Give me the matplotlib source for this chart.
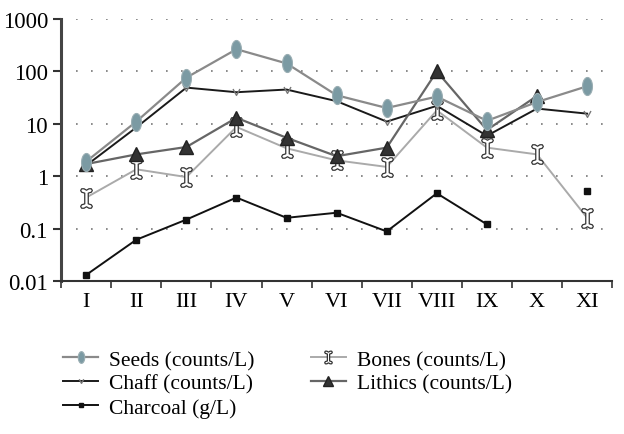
import matplotlib
matplotlib.use("Agg")
import matplotlib.pyplot as plt
import numpy as np
from matplotlib.path import Path

categories = ["I", "II", "III", "IV", "V", "VI", "VII", "VIII", "IX", "X", "XI"]
seeds = [1.9, 11, 76, 265, 142, 35, 20, 33, 11.4, 26, 52]
chaff = [1.6, 8.5, 49, 40, 45, 27, 11, 22, 5.9, 19.5, 15.6]
bones = [0.39, 1.35, 0.96, 8.7, 3.4, 2.0, 1.5, 18, 3.5, 2.6, 0.16]
lithics = [1.7, 2.6, 3.6, 13, 5.4, 2.4, 3.5, 100, 7.6, 34, np.nan]
charcoal = [0.013, 0.061, 0.148, 0.39, 0.16, 0.2, 0.088, 0.47, 0.12, np.nan, 0.51]
yticks = [0.01, 0.1, 1, 10, 100, 1000]
yticklabels = ["0.01", "0.1", "1", "10", "100", "1000"]

plt.rcParams['font.family'] = ['Liberation Serif', 'DejaVu Serif']

# custom markers
t = np.linspace(0, 2 * np.pi, 40)
ellipse = Path(np.column_stack([0.55 * np.cos(t), np.sin(t)]), closed=True)
bone_pts = [(0.18, -0.55), (0.18, 0.55), (0.5, 0.65), (0.6, 0.82), (0.5, 1.0), (0.25, 1.0),
            (0, 0.85), (-0.25, 1.0), (-0.5, 1.0), (-0.6, 0.82), (-0.5, 0.65), (-0.18, 0.55),
            (-0.18, -0.55), (-0.5, -0.65), (-0.6, -0.82), (-0.5, -1.0), (-0.25, -1.0),
            (0, -0.85), (0.25, -1.0), (0.5, -1.0), (0.6, -0.82), (0.5, -0.65), (0.18, -0.55)]
bone = Path(bone_pts, closed=True)
chaff_mk = Path([(-0.6, 0.6), (0, -0.5), (0.6, 0.6)], [Path.MOVETO, Path.LINETO, Path.LINETO])

fig = plt.figure(figsize=(6.24, 4.35), dpi=100)
ax = fig.add_axes([0.098, 0.352, 0.883, 0.602])
x = np.arange(len(categories))

ax.plot(x, charcoal, color='#111111', lw=1.4, marker='s', ms=5, mfc='#111111', mec='#111111',
        label='Charcoal (g/L)', zorder=3)
ax.plot(x, bones, color='#aaaaaa', lw=1.4, marker=bone, ms=14, mfc='white', mec='#333333', mew=0.9,
        label='Bones (counts/L)', zorder=4)
ax.plot(x, lithics, color='#666666', lw=1.6, marker='^', ms=10, mfc='#333333', mec='#222222',
        label='Lithics (counts/L)', zorder=5)
ax.plot(x, chaff, color='#1a1a1a', lw=1.4, marker=chaff_mk, ms=5, mfc='none', mec='#777777', mew=1.0,
        label='Chaff (counts/L)', zorder=4)
ax.plot(x, seeds, color='#8a8a8a', lw=1.6, marker=ellipse, ms=13, mfc='#7b9aa3', mec='#9aaeb3', mew=0.8,
        label='Seeds (counts/L)', zorder=6)

ax.set_yscale('log')
ax.set_ylim(0.01, 1000)
ax.set_xlim(-0.5, len(categories) - 0.5)
ax.set_yticks(yticks)
ax.set_yticklabels(yticklabels)
ax.yaxis.set_minor_locator(matplotlib.ticker.NullLocator())
ax.set_xticks(x)
ax.set_xticklabels(categories)
ax.set_xticks(np.arange(-0.5, len(categories)), minor=True)
ax.tick_params(axis='x', which='major', length=0, labelsize=16, pad=8)
ax.tick_params(axis='x', which='minor', length=5, width=1.2, direction='out', color='#333333')
ax.tick_params(axis='y', which='major', length=6, width=1.5, labelsize=16.5, color='#333333')

for yv in [0.1, 1, 10, 100, 1000]:
    ax.axhline(yv, color='#777777', lw=1.2, ls=(0, (1, 8)), zorder=1)

for s in ['top', 'right']:
    ax.spines[s].set_visible(False)
ax.spines['left'].set_linewidth(2.2)
ax.spines['left'].set_color('#444444')
ax.spines['bottom'].set_linewidth(1.5)
ax.spines['bottom'].set_color('#333333')

handles, labels = ax.get_legend_handles_labels()
order = ['Seeds (counts/L)', 'Chaff (counts/L)', 'Charcoal (g/L)', 'Bones (counts/L)', 'Lithics (counts/L)']
hmap = dict(zip(labels, handles))
leg = fig.legend([hmap[l] for l in order], order, loc='upper left', bbox_to_anchor=(0.087, 0.213),
                 ncol=2, frameon=False, fontsize=15.5, handlelength=1.65, markerscale=0.65,
                 labelspacing=0.18, columnspacing=2.6, handletextpad=0.5, borderaxespad=0)

fig.savefig('out.png', dpi=100)
